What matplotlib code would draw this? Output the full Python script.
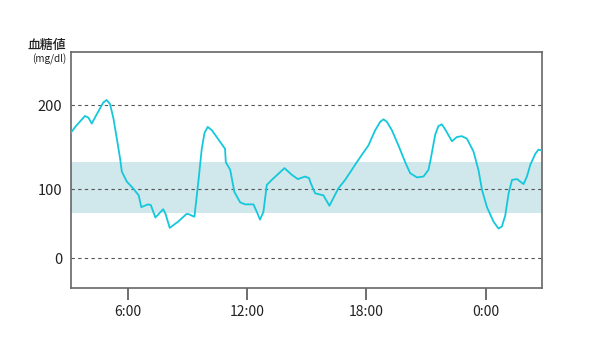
import matplotlib

matplotlib.use("Agg")
import matplotlib.pyplot as plt
import numpy as np

plt.rcParams["font.family"] = ["Noto Sans CJK JP", "DejaVu Sans"]

# hours since midnight (values past 24 are the next day)
hours = [
    3.10, 3.43, 3.85, 4.02, 4.19, 4.44, 4.77, 4.94, 5.11, 5.28, 5.45, 5.61,
    5.70, 5.95, 6.27, 6.55, 6.68, 7.02, 7.16, 7.39, 7.78, 7.89, 8.11, 8.53,
    8.95, 9.05, 9.35, 9.55, 9.72, 9.86, 10.02, 10.23, 10.89, 10.93, 11.15,
    11.36, 11.65, 11.90, 12.32, 12.49, 12.65, 12.82, 12.99, 13.24, 13.88,
    14.25, 14.55, 14.92, 15.12, 15.17, 15.42, 15.84, 16.14, 16.59, 16.93,
    17.60, 18.10, 18.44, 18.69, 18.86, 19.03, 19.28, 19.61, 19.95, 20.20,
    20.54, 20.87, 21.12, 21.21, 21.46, 21.62, 21.79, 21.96, 22.30, 22.55,
    22.80, 23.05, 23.38, 23.64, 23.81, 24.06, 24.39, 24.64, 24.81, 24.98,
    25.15, 25.32, 25.57, 25.90, 26.07, 26.24, 26.49, 26.65, 26.83,
]
glucose = [
    166, 176, 187, 185, 178, 189, 203, 206, 201, 184, 160, 137,
    121, 109, 101, 91, 74, 78, 77, 59, 71, 65, 44, 53,
    64, 64, 60, 109, 148, 167, 174, 170, 148, 132, 123,
    96, 81, 78, 78, 67, 56, 67, 105, 111, 125,
    117, 112, 115, 113, 109, 94, 91, 76, 101, 111,
    135, 152, 170, 180, 183, 180, 170, 152, 132, 119,
    114, 115, 123, 133, 165, 175, 177, 171, 157, 162,
    163, 160, 145, 122, 99, 74, 53, 43, 46, 62,
    94, 111, 112, 106, 115, 129, 142, 147, 146,
]

target_low = 65
target_high = 132
grid_values = [0, 100, 200]
tick_hours = [6, 12, 18, 24]
tick_labels = ["6:00", "12:00", "18:00", "0:00"]

# the chart squeezes the part below 100 mg/dl
SQUEEZE = 69 / 84


def forward(v):
    v = np.asarray(v, dtype=float)
    return np.where(v >= 100, v, 100 + (v - 100) * SQUEEZE)


def inverse(u):
    u = np.asarray(u, dtype=float)
    return np.where(u >= 100, u, 100 + (u - 100) / SQUEEZE)


fig = plt.figure(figsize=(5.95, 3.64), dpi=100)
ax = fig.add_axes([0.1188, 0.2088, 0.7922, 0.6483])
ax.set_yscale("function", functions=(forward, inverse))

ax.axhspan(target_low, target_high, color="#d0e7eb", lw=0, zorder=0)
for g in grid_values:
    ax.axhline(g, color="#555555", lw=0.8, ls=(0, (3, 3)), zorder=1)
ax.plot(hours, glucose, color="#14c8dc", lw=1.3, zorder=3,
        solid_joinstyle="round")

ax.set_xlim(3.13, 26.83)
ax.set_ylim(-43, 263)
ax.set_xticks(tick_hours)
ax.set_xticklabels(tick_labels)
ax.set_yticks(grid_values)
ax.set_yticklabels([str(g) for g in grid_values])
ax.yaxis.set_minor_locator(matplotlib.ticker.NullLocator())
ax.tick_params(axis="x", direction="out", length=8.5, width=1.2, color="#555555",
               pad=4, labelsize=10, labelcolor="#222222")
ax.tick_params(axis="y", length=0, pad=6, labelsize=10.5, labelcolor="#222222")
for spine in ax.spines.values():
    spine.set_color("#666666")
    spine.set_linewidth(1.2)

fig.text(66 / 595, 1 - 46 / 364, "血糖値", ha="right", va="center", fontsize=9.3,
         fontweight="medium", color="#222222")
fig.text(66 / 595, 1 - 59 / 364, "(mg/dl)", ha="right", va="center", fontsize=7.2,
         color="#222222")

fig.savefig("out.png", dpi=100)
